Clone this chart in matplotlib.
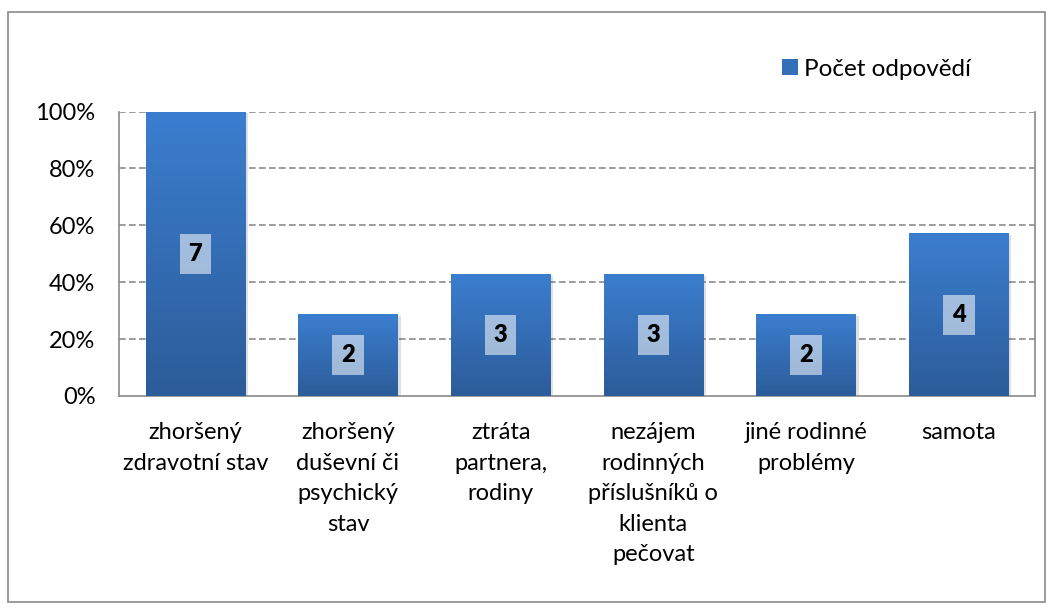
import numpy as np
import matplotlib
matplotlib.use("Agg")
import matplotlib.pyplot as plt
from matplotlib.colors import LinearSegmentedColormap
from matplotlib.patches import Rectangle

# data
categories = ["zhoršený\nzdravotní stav",
              "zhoršený\nduševní či\npsychický\nstav",
              "ztráta\npartnera,\nrodiny",
              "nezájem\nrodinných\npříslušníků o\nklienta\npečovat",
              "jiné rodinné\nproblémy",
              "samota"]
counts = [7, 2, 3, 3, 2, 4]
max_count = 7
series_name = "Počet odpovědí"
yticks = [0, 0.2, 0.4, 0.6, 0.8, 1.0]
ytick_labels = ["0%", "20%", "40%", "60%", "80%", "100%"]

shares = [c / max_count for c in counts]

plt.rcParams['font.family'] = ['Lato', 'DejaVu Sans']

fig = plt.figure(figsize=(10.54, 6.10), dpi=100)
# outer chart border
fig.patches.append(Rectangle((8 / 1054, 8 / 610), 1037 / 1054, 590 / 610,
                             transform=fig.transFigure, fill=False,
                             edgecolor="#8a8a8a", linewidth=1.2))

ax = fig.add_axes([119 / 1054, 1 - 396 / 610, 916 / 1054, 284.5 / 610])

grad_cmap = LinearSegmentedColormap.from_list("bar", ["#2c5c99", "#3b7ecf"])
grad = np.linspace(0, 1, 256).reshape(-1, 1)

width = 0.65
x = np.arange(len(categories))
for xi, share, c in zip(x, shares, counts):
    # soft shadow
    ax.add_patch(Rectangle((xi - width / 2 + 0.02, -0.006), width, share,
                           facecolor="#000000", alpha=0.12, edgecolor="none", zorder=2))
    ax.imshow(grad, extent=[xi - width / 2, xi + width / 2, 0, share],
              origin="lower", aspect="auto", cmap=grad_cmap, zorder=3)
    ax.text(xi, share / 2, str(c), ha="center", va="center", fontsize=17,
            fontweight="heavy", color="black", zorder=5,
            bbox=dict(boxstyle="square,pad=0.38", facecolor="white",
                      alpha=0.55, edgecolor="none"))

ax.set_xlim(-0.5, len(categories) - 0.5)
ax.set_ylim(0, 1)
ax.set_yticks(yticks)
ax.set_yticklabels(ytick_labels, fontsize=17)
ax.set_xticks(x)
ax.set_xticklabels(categories, fontsize=17, linespacing=1.56, va="top")
ax.tick_params(axis="y", length=0, pad=17)
ax.tick_params(axis="x", length=0, pad=19)

for yv in yticks[1:]:
    ax.axhline(yv, color="#8c8c8c", linestyle=(0, (4, 2)), linewidth=1.2, zorder=1)

for s in ax.spines.values():
    s.set_color("#8a8a8a")
    s.set_linewidth(1.2)
ax.spines["top"].set_visible(False)

# legend
fig.legend(handles=[Rectangle((0, 0), 1, 1, facecolor="#3470b8", edgecolor="none")],
           labels=[series_name], loc="center left",
           bbox_to_anchor=(782 / 1054, 1 - 69 / 610),
           frameon=False, fontsize=17.5, handlelength=0.65, handleheight=0.65,
           handletextpad=0.25, borderpad=0, borderaxespad=0)

fig.savefig("out.png", dpi=100)
